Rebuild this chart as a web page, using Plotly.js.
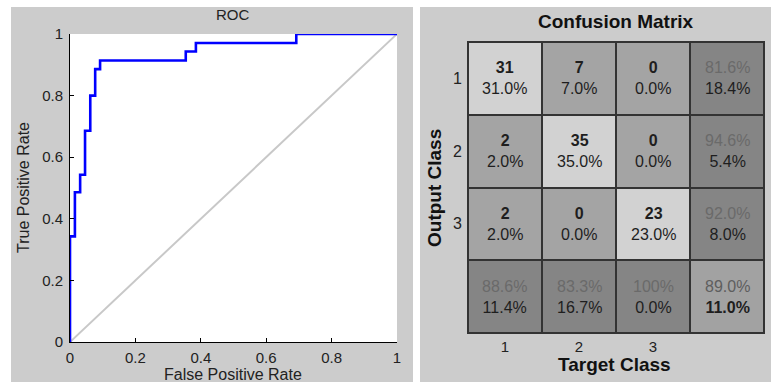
<!DOCTYPE html>
<html>
<head>
<meta charset="utf-8">
<script src="https://cdn.plot.ly/plotly-3.0.1.min.js"></script>
<style>
  html, body { margin: 0; padding: 0; background: #ffffff; }
  #chart { width: 771px; height: 382px; }
</style>
</head>
<body>
<div id="chart"></div>
<script>
// ROC curve (step points, drawn with a horizontal-then-vertical line shape)
const rocFpr = [0, 0, 0.015, 0.031, 0.046, 0.062, 0.077, 0.092, 0.354, 0.385, 0.692, 1.0];
const rocTpr = [0, 0.343, 0.486, 0.543, 0.686, 0.800, 0.886, 0.914, 0.943, 0.971, 1.0, 1.0];
const chanceLine = [0, 1];
const rocTicks = [0, 0.2, 0.4, 0.6, 0.8, 1];
const rocTickText = ['0', '0.2', '0.4', '0.6', '0.8', '1'];

// Confusion matrix: rows = output class, columns = target class
const classLabels = ['1', '2', '3'];
const outputRow1 = [31, 7, 0];
const outputRow2 = [2, 35, 0];
const outputRow3 = [2, 0, 23];

const counts = [outputRow1, outputRow2, outputRow3];
const n = classLabels.length;
const total = counts.flat().reduce((a, b) => a + b, 0);

const FONT = 'Liberation Sans, Arial, sans-serif';
const PANEL = '#cccccc';

function pct(v) {
  const p = v * 100;
  if (Math.abs(p - 100) < 1e-9) return '100%';
  return p.toFixed(1) + '%';
}

// Shade index per cell: 0 correct, 1 wrong, 2 class summary, 3 overall
const shade = [];
for (let i = 0; i <= n; i++) {
  const row = [];
  for (let j = 0; j <= n; j++) {
    if (i < n && j < n) row.push(i === j ? 0 : 1);
    else if (i === n && j === n) row.push(3);
    else row.push(2);
  }
  shade.push(row);
}
const cellPos = Array.from({length: n + 1}, (_, k) => k + 1);

// Cell texts
const cellNotes = [];
const rowSums = counts.map(r => r.reduce((a, b) => a + b, 0));
const colSums = classLabels.map((_, j) => counts.reduce((a, r) => a + r[j], 0));
const correct = counts.reduce((a, r, i) => a + r[i], 0);
for (let i = 0; i <= n; i++) {
  for (let j = 0; j <= n; j++) {
    let txt;
    if (i < n && j < n) {
      txt = '<b>' + counts[i][j] + '</b><br>' + pct(counts[i][j] / total);
    } else if (i < n && j === n) {
      const p = counts[i][i] / rowSums[i];
      txt = '<span style="color:#6a6a6a">' + pct(p) + '</span><br>' + pct(1 - p);
    } else if (i === n && j < n) {
      const p = counts[j][j] / colSums[j];
      txt = '<span style="color:#6a6a6a">' + pct(p) + '</span><br>' + pct(1 - p);
    } else {
      const p = correct / total;
      txt = '<span style="color:#5e5e5e">' + pct(p) + '</span><br><b>' + pct(1 - p) + '</b>';
    }
    cellNotes.push({
      xref: 'x2', yref: 'y2', x: cellPos[j], y: cellPos[i],
      text: txt, showarrow: false,
      font: {family: FONT, size: 16, color: '#1e1e1e'},
      align: 'center', xanchor: 'center', yanchor: 'middle'
    });
  }
}

const W = 771, H = 382;
const px = x => x / W;
const py = y => 1 - y / H;

const traces = [
  {
    type: 'scatter', mode: 'lines', x: chanceLine, y: chanceLine,
    xaxis: 'x', yaxis: 'y',
    line: {color: '#c8c8c8', width: 2}, hoverinfo: 'skip'
  },
  {
    type: 'scatter', mode: 'lines', x: rocFpr, y: rocTpr,
    xaxis: 'x', yaxis: 'y',
    line: {color: '#0000ff', width: 2.6, shape: 'hv'}, hoverinfo: 'skip'
  },
  {
    type: 'heatmap', x: cellPos, y: cellPos, z: shade,
    xaxis: 'x2', yaxis: 'y2',
    zmin: 0, zmax: 3, showscale: false, xgap: 2, ygap: 2,
    colorscale: [[0, '#d2d2d2'], [1 / 3, '#a4a4a4'], [2 / 3, '#858585'], [1, '#a2a2a2']],
    hoverinfo: 'skip'
  }
];

const layout = {
  width: W, height: H,
  margin: {l: 0, r: 0, t: 0, b: 0},
  paper_bgcolor: PANEL,
  plot_bgcolor: '#ffffff',
  showlegend: false,
  font: {family: FONT, size: 15, color: '#222222'},
  xaxis: {
    domain: [px(70), px(397)], range: [0, 1], anchor: 'y',
    tickvals: rocTicks, ticktext: rocTickText,
    ticks: 'inside', ticklen: 4, tickcolor: '#000', tickwidth: 1,
    showline: true, linecolor: '#000', linewidth: 1,
    showgrid: false, zeroline: false, fixedrange: true,
    ticklabelstandoff: 2,
    tickfont: {family: FONT, size: 15, color: '#222'}
  },
  yaxis: {
    domain: [py(342), py(34)], range: [0, 1], anchor: 'x',
    tickvals: rocTicks, ticktext: rocTickText,
    ticks: 'inside', ticklen: 4, tickcolor: '#000', tickwidth: 1,
    showline: true, linecolor: '#000', linewidth: 1,
    showgrid: false, zeroline: false, fixedrange: true,
    ticklabelstandoff: 3,
    tickfont: {family: FONT, size: 15, color: '#222'}
  },
  xaxis2: {
    domain: [px(468), px(764)], range: [0.5, n + 1.5], anchor: 'y2',
    tickvals: cellPos.slice(0, n), ticktext: classLabels,
    ticks: '', showline: true, mirror: true, linecolor: '#333', linewidth: 1,
    showgrid: false, zeroline: false, fixedrange: true,
    ticklabelstandoff: 0,
    tickfont: {family: FONT, size: 15, color: '#222'}
  },
  yaxis2: {
    domain: [py(333), py(42)], range: [n + 1.5, 0.5], anchor: 'x2',
    tickvals: cellPos.slice(0, n), ticktext: classLabels,
    ticks: '', showline: true, mirror: true, linecolor: '#333', linewidth: 1,
    showgrid: false, zeroline: false, fixedrange: true,
    ticklabelstandoff: 2,
    tickfont: {family: FONT, size: 16, color: '#222'}
  },
  shapes: [
    // white margins around the two grey panels
    {type: 'rect', xref: 'paper', yref: 'paper', x0: 0, x1: px(11), y0: 0, y1: 1,
     fillcolor: '#ffffff', line: {width: 0}, layer: 'below'},
    {type: 'rect', xref: 'paper', yref: 'paper', x0: px(413), x1: px(420), y0: 0, y1: 1,
     fillcolor: '#ffffff', line: {width: 0}, layer: 'below'},
    {type: 'rect', xref: 'paper', yref: 'paper', x0: 0, x1: 1, y0: py(7), y1: 1,
     fillcolor: '#ffffff', line: {width: 0}, layer: 'below'},
    // dark backing that shows through the heatmap gaps as cell borders
    {type: 'rect', xref: 'x2 domain', yref: 'y2 domain', x0: 0, x1: 1, y0: 0, y1: 1,
     fillcolor: '#333333', line: {width: 0}, layer: 'below'}
  ],
  annotations: [
    {xref: 'paper', yref: 'paper', x: px(233.5), y: py(15), text: 'ROC', showarrow: false,
     font: {family: FONT, size: 15, color: '#222'}, xanchor: 'center', yanchor: 'middle'},
    {xref: 'paper', yref: 'paper', x: px(233.5), y: py(374), text: 'False Positive Rate', showarrow: false,
     font: {family: FONT, size: 16, color: '#222'}, xanchor: 'center', yanchor: 'middle'},
    {xref: 'paper', yref: 'paper', x: px(23), y: py(188), text: 'True Positive Rate', showarrow: false,
     textangle: -90, font: {family: FONT, size: 16, color: '#222'}, xanchor: 'center', yanchor: 'middle'},
    {xref: 'paper', yref: 'paper', x: px(615.5), y: py(21), text: '<b>Confusion Matrix</b>', showarrow: false,
     font: {family: FONT, size: 19, color: '#111'}, xanchor: 'center', yanchor: 'middle'},
    {xref: 'paper', yref: 'paper', x: px(434), y: py(188), text: '<b>Output Class</b>', showarrow: false,
     textangle: -90, font: {family: FONT, size: 19, color: '#111'}, xanchor: 'center', yanchor: 'middle'},
    {xref: 'paper', yref: 'paper', x: px(614), y: py(364), text: '<b>Target Class</b>', showarrow: false,
     font: {family: FONT, size: 19, color: '#111'}, xanchor: 'center', yanchor: 'middle'}
  ].concat(cellNotes)
};

Plotly.newPlot('chart', traces, layout, {staticPlot: true, displayModeBar: false});
</script>
</body>
</html>
